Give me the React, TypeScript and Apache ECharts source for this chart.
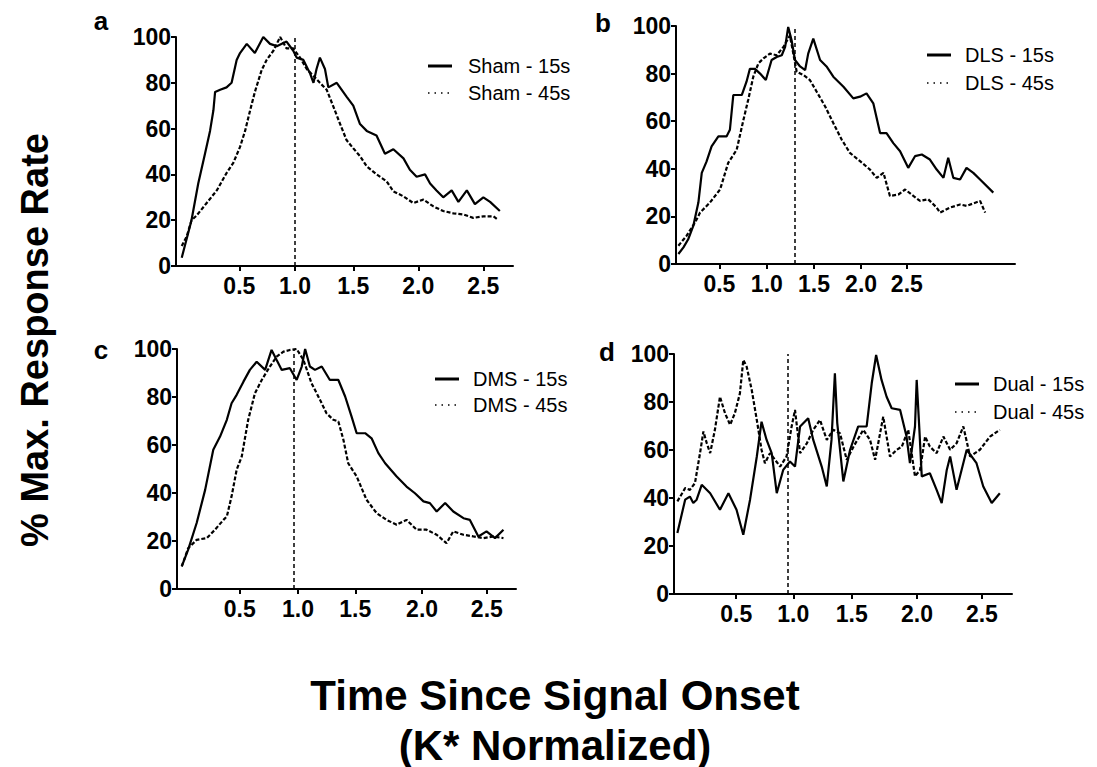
import React, { useEffect, useRef } from "react";
import * as echarts from "echarts";

const FONT = "'Liberation Sans', Arial, sans-serif";

const tickLabels = ["0.5", "1.0", "1.5", "2.0", "2.5"];
const tickPosA = [18.8, 35.3, 52.6, 71.9, 91.2];
const tickPosB = [12.8, 26.8, 40.7, 54.6, 68.1];
const tickPosC = [18.5, 35.7, 52.6, 72.3, 91.4];
const tickPosD = [18.4, 35.3, 52.6, 71.9, 91.1];
const onsets = [35.3, 34.9, 34.4, 33.7];
const panelLetters = ["a", "b", "c", "d"];
const groupNames = ["Sham", "DLS", "DMS", "Dual"];

const sham15 = [[1.7,3.6],[4.6,20],[6.6,36],[8.6,49],[10.1,59],[11.1,68],[11.6,76],[13.1,77],[15.0,78],[16.5,80],[18.0,90],[19.0,93],[21.0,97],[23.4,93],[25.9,100],[27.9,97],[29.9,96],[32.8,98],[34.8,94],[35.8,91],[37.8,90],[39.8,84],[40.8,80],[41.7,86],[42.7,91],[44.2,86],[45.2,78],[47.7,80],[50.6,74],[52.6,70],[54.6,62],[56.6,59],[59.5,57],[62.0,49],[64.5,51],[67.5,47],[69.4,42],[71.4,39],[73.9,40],[75.4,36],[77.3,33],[79.3,30],[81.8,33],[83.8,28],[86.3,33],[88.7,27],[91.2,30],[93.2,28],[96.1,24]];
const sham45 = [[1.7,8.7],[3.2,13],[4.6,20],[6.1,22],[9.1,27.5],[12.1,33],[15.0,40.6],[17.0,45],[19.0,52],[20.5,59],[22.0,68],[23.4,76],[25.4,85.5],[26.9,90],[28.9,94],[30.9,100],[32.8,95],[34.8,95],[36.8,91],[38.8,86],[40.8,83],[42.7,80],[44.7,77],[46.7,69.6],[48.7,62],[50.6,55],[52.6,51.4],[54.6,48],[56.6,43.5],[59.5,40],[62.5,37],[64.5,32.6],[67.5,30.4],[70.4,27.5],[73.4,29],[76.4,26],[79.3,24],[82.3,23],[85.3,22.5],[88.2,21],[91.2,21.7],[94.2,21.7],[95.2,20.6]];
const dls15 = [[0.7,4.2],[2.2,7],[3.6,10.4],[5.1,16],[6.6,25.8],[7.6,38.3],[9.0,43],[10.5,49.4],[12.5,53.6],[14.9,53.6],[15.9,56.4],[16.9,71],[19.4,71],[20.8,76.6],[21.8,82],[23.3,82],[24.8,80],[26.5,77.3],[28.2,85.7],[29.7,87],[31.2,87.7],[32.2,91.2],[33.1,99.6],[34.1,94],[35.1,85.7],[36.6,83],[38.1,81.5],[39.0,88.4],[40.5,94.7],[42.5,85.7],[44.4,83],[46.4,78.7],[49.4,74.5],[52.3,69.6],[54.3,70.3],[56.2,71.7],[58.2,67.5],[60.2,55],[62.1,55],[64.1,50.8],[66.1,47.4],[68.5,40.4],[70.5,45.3],[72.5,46],[74.9,43.9],[76.9,39.7],[78.9,36.2],[80.3,44.6],[81.8,36.2],[83.8,35.5],[85.7,40.4],[87.7,38.3],[89.7,35.5],[93.6,30]];
const dls45 = [[0.7,7.7],[3.1,11.8],[5.6,17.4],[7.1,21.6],[10.0,25.8],[13.0,31.3],[15.4,42.5],[17.9,48],[19.9,60.6],[21.3,69],[22.8,78.7],[24.3,84.3],[25.8,86.4],[27.7,88.4],[29.7,87.7],[31.7,91.2],[33.6,96],[35.6,80.8],[37.6,79.4],[39.5,77.3],[41.5,72.4],[44.0,66.2],[46.4,59.2],[48.9,52.2],[51.3,46.7],[54.3,43.2],[57.2,39.7],[59.2,36.2],[61.2,38.3],[63.1,28.6],[65.6,29.2],[67.6,31.3],[70.0,28.6],[72.0,26.5],[74.4,27.2],[76.9,23.7],[77.9,21.6],[80.8,23.7],[83.8,25],[85.7,24.4],[89.7,26.5],[91.2,21.6]];
const dms15 = [[1.4,9.4],[3.3,16.4],[5.8,27.5],[8.3,41.3],[10.7,58],[12.7,63.5],[14.7,70.5],[16.1,77.4],[17.6,80.9],[19.6,86.4],[21.5,91.3],[23.5,94.7],[26.0,91.3],[27.9,99.6],[29.4,95.4],[30.9,91.3],[33.3,92],[35.3,87.1],[36.8,92.7],[37.8,100],[39.2,92.7],[40.7,91.3],[42.7,92.7],[45.1,87.1],[47.6,87.1],[49.6,80.2],[51.5,71.8],[53.0,64.9],[55.5,64.9],[57.4,62.8],[59.4,56.6],[61.4,52.4],[64.8,46.9],[67.7,42.7],[70.2,39.9],[72.7,36.5],[74.6,35.8],[76.6,32.3],[79.1,35.8],[81.5,32.3],[84.5,29.5],[86.4,28.8],[88.9,21.9],[91.3,24],[93.8,21.2],[96.3,24.7]];
const dms45 = [[1.4,9.4],[3.3,17],[5.8,20.5],[8.8,21.2],[11.2,24.7],[13.7,28.8],[14.7,30.2],[16.1,38.6],[17.6,49.7],[19.1,55.2],[21.0,70.5],[23.0,81.6],[25.0,87.1],[27.4,92.7],[29.4,96.8],[31.4,98.9],[33.3,99.6],[35.3,100],[37.3,95.4],[39.7,85.7],[42.2,78.8],[44.1,73.2],[46.1,70.5],[47.6,69.8],[49.1,62.1],[50.5,52.4],[53.0,46.9],[55.9,37.2],[58.9,31.6],[61.8,28.8],[64.8,26.8],[67.7,28.8],[70.7,24.7],[73.6,24.7],[76.6,22.6],[79.5,19.1],[81.5,24],[84.5,22.6],[87.4,21.9],[90.4,21.2],[93.3,21.9],[96.3,21.2]];
const dual15 = [[1.0,25.4],[3.3,39.3],[4.7,40.6],[5.7,37.9],[6.7,39.3],[8.2,45.5],[10.7,42],[13.6,35.1],[16.1,42],[18.5,35.1],[20.5,24.7],[22.5,39.3],[24.5,57.3],[25.9,71.8],[27.4,64.2],[28.9,58.7],[30.4,42],[32.3,51.7],[34.3,55.2],[35.8,53.1],[37.3,69.8],[39.7,73.2],[41.2,64.2],[43.7,53.1],[45.2,44.8],[46.6,64.2],[47.6,92],[48.3,71.2],[50.1,46.9],[52.1,60.1],[54.5,69.8],[57.0,69.8],[58.5,87.8],[59.8,99.6],[61.4,89.2],[62.9,82.2],[64.4,77.4],[66.9,76.7],[68.8,65.6],[69.8,54.5],[71.3,69.8],[71.8,89.2],[72.6,68.4],[73.3,49],[75.7,50.3],[77.7,43.4],[79.2,37.9],[80.7,51.7],[81.7,57.3],[83.6,43.4],[86.6,60.1],[89.5,54.5],[91.5,44.8],[94.0,37.9],[96.4,42]];
const dual45 = [[1.0,38.6],[3.3,44.1],[4.7,43.4],[6.2,46.2],[7.7,58.7],[8.7,67.7],[9.7,62.8],[10.7,58.7],[12.1,68.4],[13.6,82.2],[15.1,75.3],[16.6,70.5],[18.0,75.3],[19.5,83.6],[20.5,97.5],[21.5,94.7],[23.0,85],[24.5,72.5],[25.9,60.1],[26.9,54.5],[28.4,58.7],[29.9,55.9],[31.4,53.1],[33.3,57.3],[34.8,69.8],[35.8,76.7],[37.3,58.7],[39.3,62.8],[41.2,68.4],[43.2,72.5],[45.2,64.2],[47.1,68.4],[49.1,67],[51.1,55.9],[53.1,61.4],[56.0,68.4],[58.0,64.2],[59.5,55.9],[61.9,73.9],[63.9,57.3],[65.9,60.1],[67.4,61.4],[69.3,68.4],[71.3,49],[72.8,51.7],[74.3,65.6],[75.7,61.4],[77.7,58.7],[79.7,65.6],[81.7,60.1],[83.6,62.8],[85.6,69.8],[87.6,57.3],[90.5,60.1],[93.5,65.6],[96.4,68.4]];

const panels = [
  { box: { left: 176, top: 37, width: 337, height: 229 }, ticks: tickPosA, s15: sham15, s45: sham45, leg: { x: 428, y: 66, tx: 468, dy: 27 }, letter: { x: 101, y: 21 } },
  { box: { left: 676, top: 26, width: 339, height: 238 }, ticks: tickPosB, s15: dls15, s45: dls45, leg: { x: 927, y: 55, tx: 965, dy: 28 }, letter: { x: 603, y: 23 } },
  { box: { left: 177, top: 349, width: 339, height: 240 }, ticks: tickPosC, s15: dms15, s45: dms45, leg: { x: 435, y: 379, tx: 473, dy: 26 }, letter: { x: 101, y: 350 } },
  { box: { left: 674, top: 354, width: 338, height: 240 }, ticks: tickPosD, s15: dual15, s45: dual45, leg: { x: 955, y: 384, tx: 993, dy: 28 }, letter: { x: 607, y: 352 } },
];

export default function App() {
  const ref = useRef<HTMLDivElement>(null);
  useEffect(() => {
    if (!ref.current) return;
    const chart = echarts.init(ref.current, undefined, { renderer: "svg" });
    const grid: any[] = [];
    const xAxis: any[] = [];
    const yAxis: any[] = [];
    const series: any[] = [];
    const graphic: any[] = [];
    panels.forEach((p, i) => {
      grid.push({ ...p.box, containLabel: false });
      xAxis.push({
        type: "value", gridIndex: i, min: 0, max: 100,
        axisLine: { show: true, lineStyle: { color: "#000", width: 2 } },
        axisTick: { show: true, customValues: p.ticks, length: 5, lineStyle: { color: "#000", width: 2 } },
        axisLabel: {
          show: true, customValues: p.ticks, margin: 8,
          color: "#000", fontFamily: FONT, fontWeight: "bold", fontSize: 23,
          formatter: (v: number) => {
            const k = p.ticks.findIndex((t) => Math.abs(t - v) < 0.01);
            return k >= 0 ? tickLabels[k] : "";
          },
        },
        splitLine: { show: false },
      });
      yAxis.push({
        type: "value", gridIndex: i, min: 0, max: 100, interval: 20,
        axisLine: { show: true, lineStyle: { color: "#000", width: 2 } },
        axisTick: { show: true, length: 5, lineStyle: { color: "#000", width: 2 } },
        axisLabel: { color: "#000", fontFamily: FONT, fontWeight: "bold", fontSize: 23, margin: 5 },
        splitLine: { show: false },
      });
      series.push({
        name: groupNames[i] + " - 15s", type: "line", xAxisIndex: i, yAxisIndex: i,
        data: p.s15, showSymbol: false, symbol: "none",
        lineStyle: { color: "#000", width: 2.2 },
        markLine: {
          silent: true, symbol: ["none", "none"], label: { show: false },
          lineStyle: { color: "#000", width: 1.5, type: [4, 3] },
          data: [{ xAxis: onsets[i] }],
        },
      });
      series.push({
        name: groupNames[i] + " - 45s", type: "line", xAxisIndex: i, yAxisIndex: i,
        data: p.s45, showSymbol: false, symbol: "none",
        lineStyle: { color: "#000", width: 2.2, type: [4, 2] },
      });
      const L = p.leg;
      graphic.push({ type: "line", shape: { x1: L.x, y1: L.y, x2: L.x + 24, y2: L.y }, style: { stroke: "#000", lineWidth: 3 } });
      graphic.push({ type: "line", shape: { x1: L.x, y1: L.y + L.dy, x2: L.x + 24, y2: L.y + L.dy }, style: { stroke: "#000", lineWidth: 1.5, lineDash: [1.5, 5] } });
      graphic.push({ type: "text", x: L.tx, y: L.y, style: { text: groupNames[i] + " - 15s", fontFamily: FONT, fontSize: 20, fill: "#000", textAlign: "left", textVerticalAlign: "middle", align: "left", verticalAlign: "middle" } });
      graphic.push({ type: "text", x: L.tx, y: L.y + L.dy, style: { text: groupNames[i] + " - 45s", fontFamily: FONT, fontSize: 20, fill: "#000", textAlign: "left", textVerticalAlign: "middle", align: "left", verticalAlign: "middle" } });
      graphic.push({ type: "text", x: p.letter.x, y: p.letter.y, style: { text: panelLetters[i], fontFamily: FONT, fontSize: 26, fontWeight: "bold", fill: "#000", textAlign: "center", textVerticalAlign: "middle", align: "center", verticalAlign: "middle" } });
    });
    graphic.push({ type: "text", x: 35, y: 340, rotation: Math.PI / 2, style: { text: "% Max. Response Rate", fontFamily: FONT, fontSize: 38, fontWeight: "bold", fill: "#000", textAlign: "center", textVerticalAlign: "middle", align: "center", verticalAlign: "middle" } });
    graphic.push({ type: "text", x: 555, y: 695, style: { text: "Time Since Signal Onset", fontFamily: FONT, fontSize: 42, fontWeight: "bold", fill: "#000", textAlign: "center", textVerticalAlign: "middle", align: "center", verticalAlign: "middle" } });
    graphic.push({ type: "text", x: 555, y: 745, style: { text: "(K* Normalized)", fontFamily: FONT, fontSize: 42, fontWeight: "bold", fill: "#000", textAlign: "center", textVerticalAlign: "middle", align: "center", verticalAlign: "middle" } });
    chart.setOption({ animation: false, backgroundColor: "#fff", grid, xAxis, yAxis, series, graphic });
    return () => chart.dispose();
  }, []);
  return <div ref={ref} style={{ position: "fixed", left: 0, top: 0, width: 1097, height: 767, background: "#fff" }} />;
}
